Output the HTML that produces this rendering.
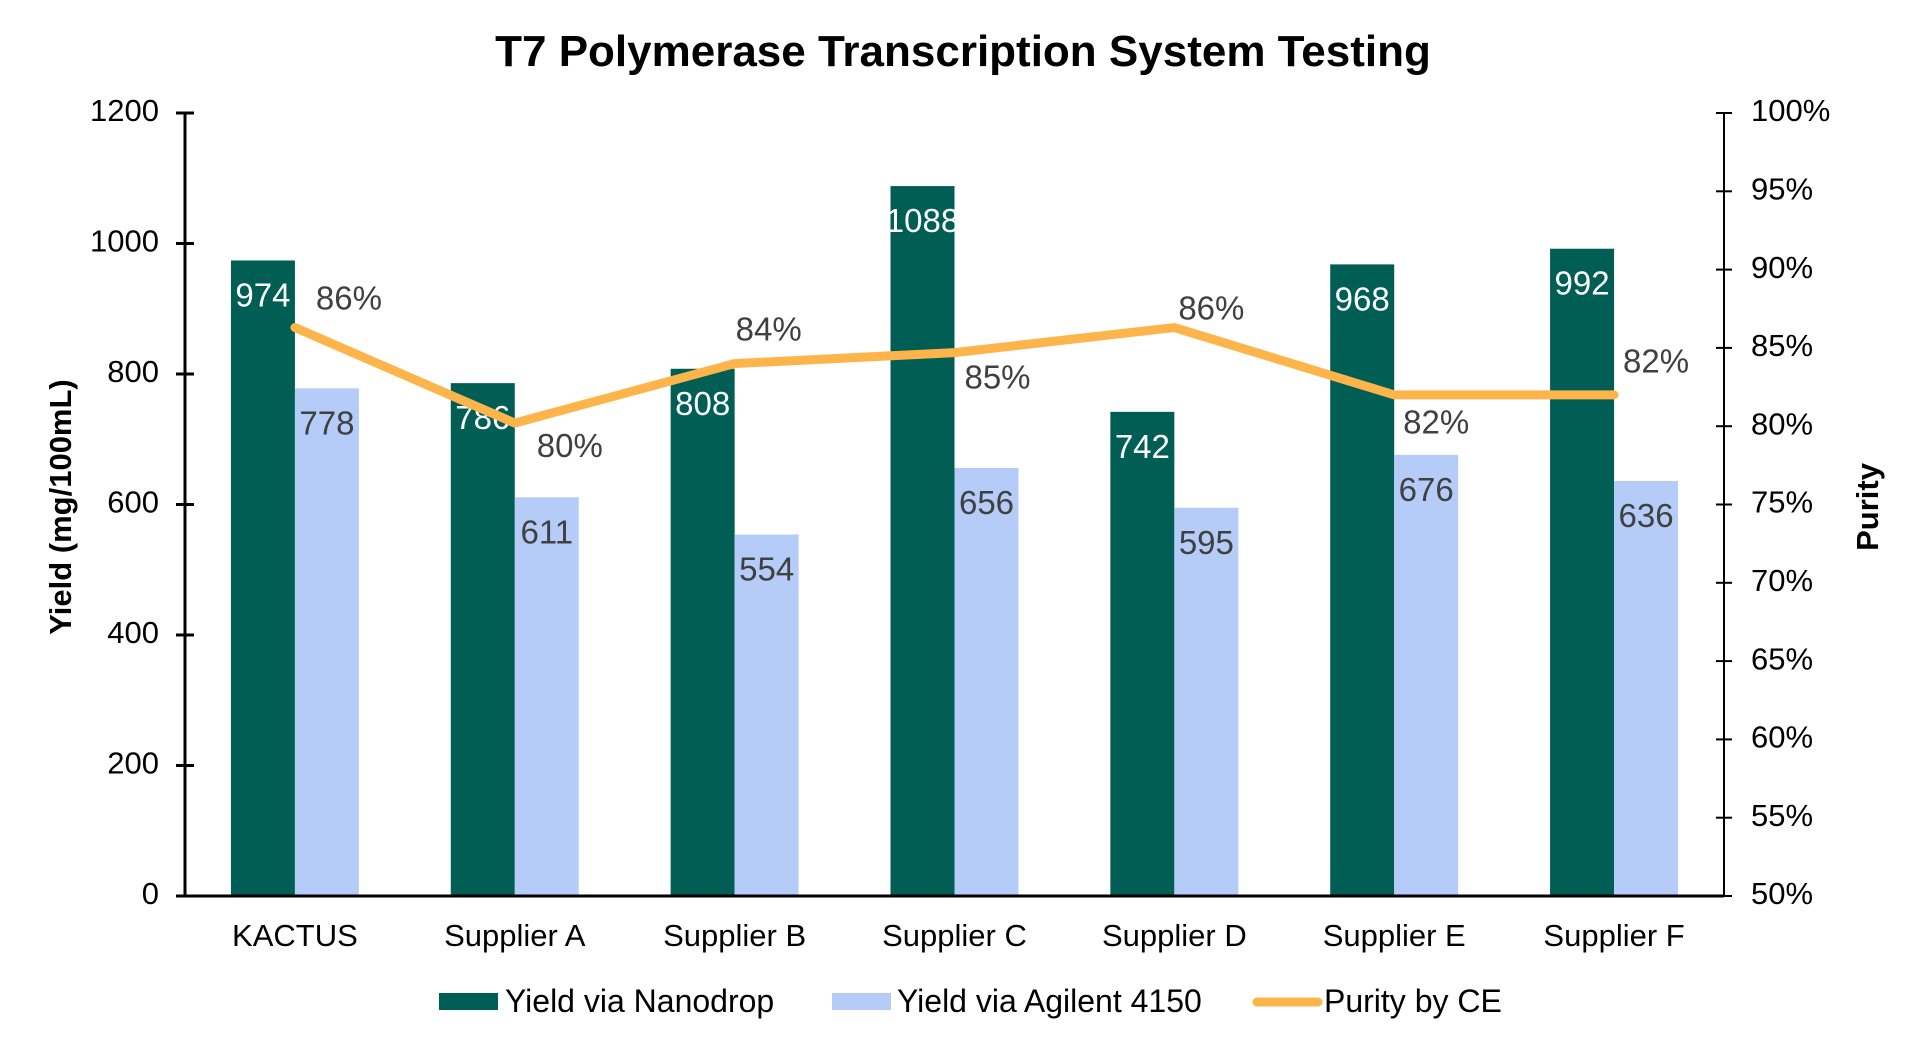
<!DOCTYPE html>
<html><head><meta charset="utf-8"><style>
html,body{margin:0;padding:0;background:#fff;}
svg{display:block;font-family:"Liberation Sans",Arial,sans-serif;}
</style></head><body>
<svg id="chart" width="1920" height="1046" viewBox="0 0 1920 1046">
<text x="963" y="66" text-anchor="middle" font-size="44" font-weight="bold" fill="#000">T7 Polymerase Transcription System Testing</text>
<text transform="translate(71,507) rotate(-90)" text-anchor="middle" font-size="31" font-weight="bold" fill="#000">Yield (mg/100mL)</text>
<text transform="translate(1878,507) rotate(-90)" text-anchor="middle" font-size="31" font-weight="bold" fill="#000">Purity</text>
<g id="plot"></g>
<g>
<rect x="439" y="993" width="59" height="17" fill="#005E55"/>
<text x="505" y="1012" font-size="32" fill="#000">Yield via Nanodrop</text>
<rect x="832" y="993" width="59" height="17" fill="#B4CCF7"/>
<text x="897" y="1012" font-size="32" fill="#000">Yield via Agilent 4150</text>
<line x1="1257" y1="1002" x2="1318" y2="1002" stroke="#FDB54B" stroke-width="9" stroke-linecap="round"/>
<text x="1324" y="1012" font-size="32" fill="#000">Purity by CE</text>
</g>
</svg>
<script>
const categories = ["KACTUS","Supplier A","Supplier B","Supplier C","Supplier D","Supplier E","Supplier F"];
const nanodrop = [974,786,808,1088,742,968,992];
const agilent = [778,611,554,656,595,676,636];
const purity = [86.3,80.2,84.0,84.7,86.3,82.0,82.0];
const purityLabels = ["86%","80%","84%","85%","86%","82%","82%"];
const yTicks = [0,200,400,600,800,1000,1200];
const y2Ticks = [50,55,60,65,70,75,80,85,90,95,100];

const NS="http://www.w3.org/2000/svg";
const g=document.getElementById('plot');
const L=185,R=1724,T=113,B=896;
const y=v=>B-(v/1200)*(B-T);
const y2=v=>B-((v-50)/50)*(B-T);
const step=(R-L)/categories.length;
const cx=i=>L+step*(i+0.5);
const bw=64;
function mk(tag,attrs,text){const e=document.createElementNS(NS,tag);for(const k in attrs)e.setAttribute(k,attrs[k]);if(text!==undefined)e.textContent=text;g.appendChild(e);return e;}
categories.forEach((c,i)=>{
  let e=mk('rect',{x:cx(i)-bw,y:y(nanodrop[i]),width:bw,height:B-y(nanodrop[i]),fill:'#005E55'});
  
  
  e=mk('rect',{x:cx(i),y:y(agilent[i]),width:bw,height:B-y(agilent[i]),fill:'#B4CCF7'});
  
  
  e=mk('text',{x:cx(i)-bw/2,y:y(nanodrop[i])+46,'text-anchor':'middle','font-size':33,fill:'#fff'},String(nanodrop[i]));
  
  
  e=mk('text',{x:cx(i)+bw/2,y:y(agilent[i])+46,'text-anchor':'middle','font-size':33,fill:'#404040'},String(agilent[i]));
  
  
  e=mk('text',{x:cx(i),y:938,'text-anchor':'middle','dominant-baseline':'middle','font-size':31,fill:'#000'},c);
  
  
});
let ax=mk('line',{x1:L,y1:T,x2:L,y2:B,stroke:'#000','stroke-width':3});


ax=mk('line',{x1:R,y1:T,x2:R,y2:B,stroke:'#000','stroke-width':2});


ax=mk('line',{x1:L-9,y1:B,x2:R,y2:B,stroke:'#000','stroke-width':3});


yTicks.forEach(v=>{
  let e=mk('line',{x1:L-9,y1:y(v),x2:L+9,y2:y(v),stroke:'#000','stroke-width':3});
  
  
  e=mk('text',{x:L-26,y:y(v),'text-anchor':'end','dominant-baseline':'middle','font-size':31,fill:'#000'},String(v));
  
  
});
y2Ticks.forEach(v=>{
  let e=mk('line',{x1:R-8,y1:y2(v),x2:R+8,y2:y2(v),stroke:'#000','stroke-width':2});
  
  
  e=mk('text',{x:R+27,y:y2(v),'dominant-baseline':'middle','font-size':31,fill:'#000'},v+'%');
  
  
});
const pts=purity.map((v,i)=>cx(i)+','+y2(v)).join(' ');
let pl=mk('polyline',{points:pts,fill:'none',stroke:'#FDB54B','stroke-width':9,'stroke-linejoin':'round','stroke-linecap':'round'});


const offs=[[54,-27],[55,25],[34,-32],[43,27],[37,-17],[42,30],[42,-31]];
purity.forEach((v,i)=>{
  const e=mk('text',{x:cx(i)+offs[i][0],y:y2(v)+offs[i][1],'text-anchor':'middle','dominant-baseline':'middle','font-size':33,fill:'#404040'},purityLabels[i]);
  
  
});
</script>
</body></html>
